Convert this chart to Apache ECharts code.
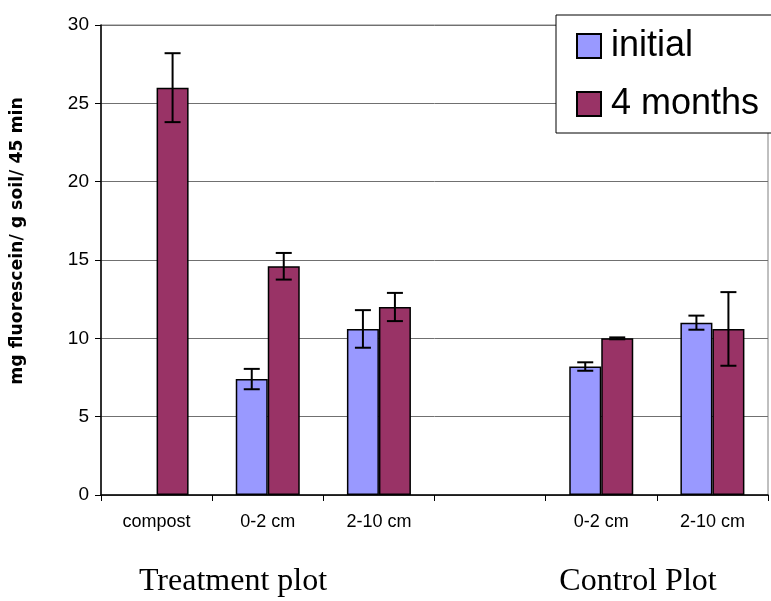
<!DOCTYPE html>
<html>
<head>
<meta charset="utf-8">
<script src="https://cdn.jsdelivr.net/npm/echarts@6/dist/echarts.min.js"></script>
<style>html,body{margin:0;padding:0;background:#fff;}#c{width:771px;height:601px;}</style>
</head>
<body>
<div id="c"></div>
<script>
var categories = ['compost', '0-2 cm', '2-10 cm', '', '0-2 cm', '2-10 cm'];
var seriesNames = ['initial', '4 months'];
var initialValues = [null, 7.4, 10.6, null, 8.2, 11.0];
var monthsValues = [26.0, 14.6, 12.0, null, 10.0, 10.6];
var initialErrors = [null, 0.65, 1.2, null, 0.27, 0.45];
var monthsErrors = [2.2, 0.85, 0.9, null, 0.06, 2.35];
var yTicks = [0, 5, 10, 15, 20, 25, 30];
var groupLabels = ['Treatment plot', 'Control Plot'];
var yTitle = 'mg fluorescein/ g soil/ 45 min';

var BAR_W = 32;

function errData(vals, errs) {
  var out = [];
  for (var i = 0; i < vals.length; i++) {
    if (vals[i] != null && errs[i] != null) out.push([i, vals[i] - errs[i], vals[i] + errs[i]]);
  }
  return out;
}

function makeErrRender(offset) {
  return function (params, api) {
    var lo = api.coord([api.value(0), api.value(1)]);
    var hi = api.coord([api.value(0), api.value(2)]);
    var x = lo[0] + offset;
    var cap = 8;
    var st = { stroke: '#000', lineWidth: 2 };
    return {
      type: 'group',
      children: [
        { type: 'line', shape: { x1: x, y1: lo[1], x2: x, y2: hi[1] }, style: st },
        { type: 'line', shape: { x1: x - cap, y1: lo[1], x2: x + cap, y2: lo[1] }, style: st },
        { type: 'line', shape: { x1: x - cap, y1: hi[1], x2: x + cap, y2: hi[1] }, style: st }
      ]
    };
  };
}

var chart = echarts.init(document.getElementById('c'), null, { renderer: 'canvas' });
chart.setOption({
  animation: false,
  backgroundColor: '#fff',
  grid: { left: 101, right: 3, top: 25, bottom: 106, show: true, borderColor: '#808080', borderWidth: 1, containLabel: false },
  legend: {
    data: seriesNames,
    orient: 'vertical',
    left: 556,
    top: 15,
    itemWidth: 24,
    itemHeight: 24,
    itemGap: 22,
    icon: 'rect',
    padding: [13, 20, 11, 20],
    borderColor: '#000',
    borderWidth: 1,
    backgroundColor: '#fff',
    textStyle: { fontSize: 36, fontFamily: 'Liberation Sans, Arial, sans-serif', color: '#000', padding: [0, 0, 0, 5] }
  },
  xAxis: {
    type: 'category',
    data: categories,
    boundaryGap: true,
    axisLine: { lineStyle: { color: '#000', width: 1.5 } },
    axisTick: { show: true, interval: 0, length: 6, lineStyle: { color: '#000' } },
    axisLabel: { interval: 0, margin: 18, fontSize: 18, color: '#000', fontFamily: 'Liberation Sans, Arial, sans-serif' },
    splitLine: { show: false }
  },
  yAxis: {
    type: 'value',
    min: 0,
    max: 30,
    interval: 5,
    axisLine: { show: true, lineStyle: { color: '#000', width: 1.5 } },
    axisTick: { show: true, length: 6, lineStyle: { color: '#000' } },
    axisLabel: { margin: 12, fontSize: 19, color: '#000', fontFamily: 'Liberation Sans, Arial, sans-serif',
      formatter: function (v) { return yTicks.indexOf(v) >= 0 ? String(v) : ''; } },
    splitLine: { show: true, lineStyle: { color: '#707070', width: 1 } }
  },
  series: [
    {
      name: seriesNames[0], type: 'bar', data: initialValues, barWidth: BAR_W, barGap: '0%',
      itemStyle: { color: '#9999FF', borderColor: '#000', borderWidth: 1.5 }
    },
    {
      name: seriesNames[1], type: 'bar', data: monthsValues, barWidth: BAR_W, barGap: '0%',
      itemStyle: { color: '#993366', borderColor: '#000', borderWidth: 1.5 }
    },
    {
      name: 'err-initial', type: 'custom', renderItem: makeErrRender(-BAR_W / 2),
      data: errData(initialValues, initialErrors), encode: { x: 0, y: [1, 2] }, z: 10, silent: true
    },
    {
      name: 'err-months', type: 'custom', renderItem: makeErrRender(BAR_W / 2),
      data: errData(monthsValues, monthsErrors), encode: { x: 0, y: [1, 2] }, z: 10, silent: true
    }
  ],
  graphic: [
    {
      type: 'text', x: 18, y: 241, rotation: Math.PI / 2,
      style: { text: yTitle, x: 0, y: 0, textAlign: 'center', textVerticalAlign: 'middle',
        font: 'bold 17.3px "DejaVu Sans", Verdana, sans-serif', fill: '#000' }
    },
    {
      type: 'text', x: 233, y: 582,
      style: { text: groupLabels[0], textAlign: 'center', textVerticalAlign: 'middle',
        font: '32px "Liberation Serif", "Times New Roman", serif', fill: '#000' }
    },
    {
      type: 'text', x: 638, y: 582,
      style: { text: groupLabels[1], textAlign: 'center', textVerticalAlign: 'middle',
        font: '32px "Liberation Serif", "Times New Roman", serif', fill: '#000' }
    }
  ]
});
</script>
</body>
</html>
